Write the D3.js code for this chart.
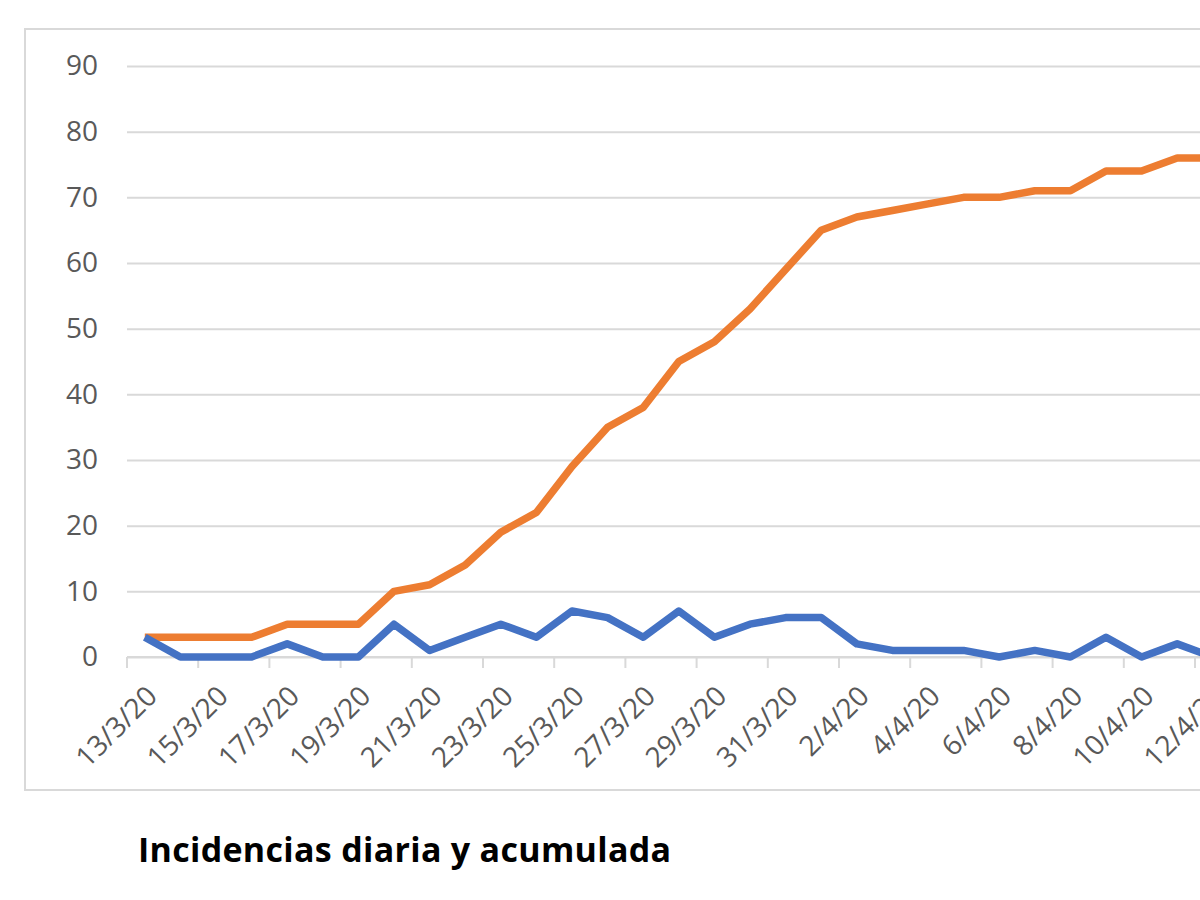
<!DOCTYPE html>
<html>
<head>
<meta charset="utf-8">
<script src="https://cdn.jsdelivr.net/npm/d3@7"></script>
<style>
  body { margin: 0; background: #fff; }
  svg { display: block; }
</style>
</head>
<body>
<div id="chart"></div>
<script>
// days shown on the category axis (the last one is cut by the frame)
var dates = ['13/3/20', '14/3/20', '15/3/20', '16/3/20', '17/3/20', '18/3/20', '19/3/20', '20/3/20',
	'21/3/20', '22/3/20', '23/3/20', '24/3/20', '25/3/20', '26/3/20', '27/3/20', '28/3/20',
	'29/3/20', '30/3/20', '31/3/20', '1/4/20', '2/4/20', '3/4/20', '4/4/20', '5/4/20',
	'6/4/20', '7/4/20', '8/4/20', '9/4/20', '10/4/20', '11/4/20', '12/4/20'];

var diaria = [3, 0, 0, 0, 2, 0, 0, 5, 1, 3, 5, 3, 7, 6, 3, 7,
	3, 5, 6, 6, 2, 1, 1, 1, 0, 1, 0, 3, 0, 2, 0];

var acumulada = [3, 3, 3, 3, 5, 5, 5, 10, 11, 14, 19, 22, 29, 35, 38, 45,
	48, 53, 59, 65, 67, 68, 69, 70, 70, 71, 71, 74, 74, 76, 76];

var yTicks = [0, 10, 20, 30, 40, 50, 60, 70, 80, 90];

var width = 1200, height = 900;

var svg = d3.select('#chart')
	.append('svg')
		.attr('width', width)
		.attr('height', height);

// chart area frame (right side runs off the picture)
svg.append('rect')
	.attr('x', 25)
	.attr('y', 29)
	.attr('width', 1300)
	.attr('height', 761)
	.style('fill', 'none')
	.style('stroke', '#d9d9d9')
	.style('stroke-width', 2);

// scales
var x = d3.scaleBand()
	.domain(dates)
	.range([127, 127 + 35.6 * dates.length]);

var y = d3.scaleLinear()
	.domain([0, 90])
	.range([657, 66]);

function cx(d) { return x(d) + x.bandwidth() / 2; }

// gridlines + y labels
var yAxis = svg.append('g')
	.attr('transform', 'translate(127,0)')
	.call(d3.axisLeft(y)
		.tickValues(yTicks)
		.tickSize(-1300)
		.tickPadding(29));

yAxis.select('.domain').remove();
yAxis.selectAll('line')
	.style('stroke', '#d9d9d9')
	.style('stroke-width', 2);
yAxis.selectAll('text')
	.style('font-family', '"Open Sans", sans-serif')
	.style('font-size', '28px')
	.style('fill', '#595959');

// category axis line and tick marks (every second day, on the boundaries)
svg.append('line')
	.attr('x1', 127)
	.attr('x2', 1300)
	.attr('y1', y(0))
	.attr('y2', y(0))
	.style('stroke', '#d9d9d9')
	.style('stroke-width', 2);

var labelDates = dates.filter(function(d, i) { return i % 2 == 0; });

svg.selectAll('.xtick')
	.data(labelDates)
	.enter().append('line')
		.attr('class', 'xtick')
		.attr('x1', function(d) { return x(d); })
		.attr('x2', function(d) { return x(d); })
		.attr('y1', y(0))
		.attr('y2', y(0) + 11)
		.style('stroke', '#d9d9d9')
		.style('stroke-width', 2);

svg.selectAll('.xlabel')
	.data(labelDates)
	.enter().append('text')
		.attr('class', 'xlabel')
		.attr('transform', function(d) {
			return 'translate(' + (cx(d) + 7) + ',' + (y(0) + 34) + ') rotate(-45)';
		})
		.attr('text-anchor', 'end')
		.attr('dy', '0.35em')
		.style('font-family', '"Open Sans", sans-serif')
		.style('font-size', '28px')
		.style('fill', '#595959')
		.text(function(d) { return d; });

// series
var line = d3.line()
	.x(function(d, i) { return cx(dates[i]); })
	.y(function(d) { return y(d); });

svg.append('path')
	.datum(acumulada)
	.attr('d', line)
	.style('fill', 'none')
	.style('stroke', '#ED7D31')
	.style('stroke-width', 7.5)
	.style('stroke-linejoin', 'round');

svg.append('path')
	.datum(diaria)
	.attr('d', line)
	.style('fill', 'none')
	.style('stroke', '#4472C4')
	.style('stroke-width', 7.5)
	.style('stroke-linejoin', 'round');

// caption under the chart
svg.append('text')
	.attr('x', 138)
	.attr('y', 862)
	.style('font-family', '"Open Sans", sans-serif')
	.style('font-weight', 'bold')
	.style('font-size', '34px')
	.style('letter-spacing', '0.3px')
	.style('fill', '#000')
	.text('Incidencias diaria y acumulada');
</script>
</body>
</html>
